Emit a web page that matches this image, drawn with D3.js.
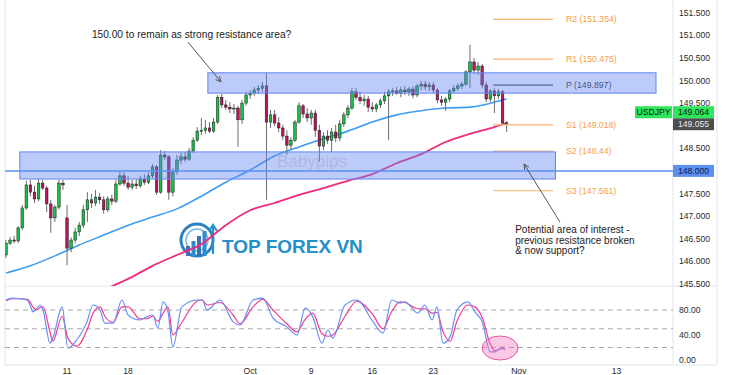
<!DOCTYPE html>
<html>
<head>
<meta charset="utf-8">
<script src="https://cdn.jsdelivr.net/npm/d3@7"></script>
<style>
body { margin:0; background:#fff; }
text { font-family: "Liberation Sans", Arial, sans-serif; }
</style>
</head>
<body>
<script>
// USDJPY, 8h candles from Sep 4 to Oct 31 : [open, high, low, close]
var candles = [
 [146.14,146.47,146.07,146.40],[146.40,146.54,146.36,146.47],[146.47,146.56,146.40,146.45],[146.45,146.78,146.40,146.74],
 [146.74,147.25,146.69,147.18],[147.18,147.78,147.14,147.69],[147.69,147.80,147.44,147.53],[147.53,147.67,147.29,147.38],
 [147.38,147.82,147.33,147.73],[147.73,147.80,147.58,147.62],[147.62,147.67,147.09,147.27],[147.27,147.36,146.63,146.96],
 [146.96,147.25,146.87,147.20],[147.20,147.80,147.14,147.73],[147.73,147.80,147.58,147.69],[146.96,147.25,145.91,146.29],
 [146.29,146.53,146.20,146.47],[146.47,146.74,146.40,146.65],[146.65,146.87,146.56,146.80],[146.80,147.25,146.74,147.14],
 [147.14,147.53,146.87,147.36],[147.36,147.49,147.18,147.29],[147.29,147.58,147.22,147.42],[147.42,147.51,147.27,147.36],
 [147.36,147.44,147.05,147.14],[147.14,147.44,147.09,147.38],[147.38,147.47,147.25,147.33],[147.33,147.80,147.29,147.71],
 [147.71,147.98,147.67,147.89],[147.89,147.98,147.67,147.73],[147.73,147.89,147.58,147.64],[147.64,147.80,147.58,147.71],
 [147.71,147.82,147.60,147.67],[147.67,147.89,147.62,147.82],[147.82,147.93,147.69,147.75],[147.75,147.98,147.71,147.89],
 [147.89,148.15,147.84,148.09],[148.09,148.13,147.47,147.53],[147.53,148.46,147.49,148.35],[148.35,148.44,148.24,148.31],
 [148.31,148.35,147.36,147.53],[147.53,148.06,147.44,147.98],[147.98,148.35,147.91,148.24],[148.24,148.40,148.15,148.31],
 [148.31,148.42,148.20,148.26],[148.26,148.51,148.22,148.44],[148.44,148.75,148.40,148.68],[148.68,148.97,148.64,148.88],
 [148.88,149.17,148.79,148.90],[148.90,149.13,148.82,148.95],[148.95,149.08,148.84,148.88],[148.88,149.17,148.84,149.08],
 [149.08,149.68,149.04,149.63],[149.63,149.70,149.39,149.46],[149.46,149.57,149.35,149.41],[149.41,149.52,149.28,149.37],
 [149.37,149.48,149.26,149.39],[149.39,149.44,148.53,149.13],[149.13,149.57,149.04,149.50],[149.50,149.75,149.44,149.68],
 [149.68,149.79,149.59,149.72],[149.72,149.86,149.66,149.79],[149.79,149.90,149.70,149.83],[149.83,149.97,149.75,149.88],
 [149.88,150.17,147.36,149.08],[149.08,149.35,148.95,149.24],[149.24,149.35,148.99,149.06],[149.06,149.19,148.86,148.95],
 [148.95,149.02,148.68,148.77],[148.77,148.90,148.35,148.57],[148.57,148.75,148.46,148.68],[148.68,149.13,148.64,149.08],
 [149.08,149.52,149.04,149.44],[149.44,149.48,149.17,149.26],[149.26,149.39,149.08,149.17],[149.17,149.35,149.02,149.28],
 [149.28,149.35,148.75,148.90],[148.90,149.02,148.20,148.55],[148.55,148.86,148.46,148.77],[148.77,148.90,148.60,148.68],
 [148.68,148.95,148.42,148.86],[148.86,149.02,148.64,148.73],[148.73,149.13,148.66,149.04],[149.04,149.30,148.97,149.24],
 [149.24,149.46,149.17,149.39],[149.39,149.83,149.35,149.75],[149.75,149.83,149.57,149.63],[149.63,149.75,149.48,149.55],
 [149.55,149.68,149.44,149.59],[149.59,149.66,149.30,149.41],[149.41,149.52,149.30,149.37],[149.37,149.50,149.30,149.46],
 [149.46,149.61,149.39,149.55],[149.55,149.75,149.48,149.66],[149.66,149.81,148.68,149.75],[149.75,149.83,149.66,149.77],
 [149.77,149.86,149.68,149.72],[149.72,149.86,149.63,149.79],[149.79,149.88,149.68,149.75],[149.75,149.86,149.66,149.81],
 [149.81,149.88,149.61,149.68],[149.68,149.92,149.63,149.88],[149.88,149.99,149.79,149.92],[149.92,149.99,149.79,149.86],
 [149.86,149.97,149.77,149.90],[149.90,149.97,149.72,149.79],[149.79,149.83,149.50,149.57],[149.57,149.66,149.44,149.52],
 [149.52,149.63,149.33,149.59],[149.59,149.81,149.52,149.77],[149.77,149.90,149.72,149.83],[149.83,149.94,149.77,149.88],
 [149.88,149.97,149.81,149.92],[149.92,150.23,149.88,150.19],[150.19,150.79,149.83,150.41],[150.41,150.50,150.14,150.23],
 [150.23,150.41,150.12,150.32],[150.32,150.37,149.83,149.90],[149.90,149.97,149.52,149.59],[149.59,149.81,149.52,149.77],
 [149.77,149.83,149.28,149.66],[149.66,149.81,149.59,149.75],[149.75,149.79,149.02,149.06],[149.06,149.10,148.86,149.064]
];

// moving averages, read at some candle indexes
var maBlueIdx = [0,6,12,18,24,30,36,42,48,54,60,66,72,78,84,90,96,102,108,114,120,123];
var maBlue = [145.74,145.90,146.12,146.36,146.58,146.80,146.98,147.16,147.44,147.75,148.02,148.33,148.53,148.71,148.88,149.08,149.24,149.33,149.39,149.41,149.52,149.59];
var maPinkIdx = [24,30,36,42,48,54,60,66,72,78,84,90,96,102,108,114,120,123];
var maPink = [145.37,145.61,145.90,146.14,146.38,146.80,147.13,147.29,147.47,147.62,147.78,147.93,148.17,148.37,148.64,148.82,148.97,149.06];

// stochastic
var stochIdx = [0,1.5,3.4,5.2,5.9,6.6,7.6,8.4,9.1,10.8,11.5,13.8,15.2,17.4,19.9,21.4,23.1,24.3,26.3,28.5,30,32.9,34.6,36.1,37.3,38.6,39.8,41,43.2,46.9,48.2,49.4,52.6,55.8,57.5,60.7,63.1,65.6,69,71.5,73.5,75.4,77.6,79.1,80.3,83.3,86.2,90.2,92.6,94.8,96.8,98,101.2,102.9,104.7,105.9,107.4,109.1,110.8,113.5,115.2,117,119,120.1,121.9,122.6];
var stochK = [96,99,98,96,88,77,83,88,80,27,35,85,19,32,61,88,80,59,59,96,72,64,69,72,51,93,77,21,85,96,96,80,96,61,56,96,99,67,53,40,83,69,27,48,35,88,96,61,43,96,91,93,75,88,64,85,27,37,80,93,77,61,13,13,21,16];
var stochD = [95,98,98,97,93,85,80,84,85,45,30,70,35,22,48,75,85,70,60,85,85,66,66,70,62,75,85,40,60,94,96,88,92,72,58,85,97,80,58,45,65,75,42,38,40,70,94,72,50,78,93,92,82,82,75,76,45,30,62,88,85,68,25,15,18,18];

var pivotNames = ["R2","R1","P","S1","S2","S3"];
var pivotValues = [151.354,150.475,149.897,149.018,148.44,147.561];

var priceTicks = [145.5,146,146.5,147,147.5,148,148.5,149,149.5,150,150.5,151,151.5];
var stochTicks = [0,40,80];
var stochLevels = [20,50,80];
var dateIdx = [15,30,60,75,90,105,126,150];
var dateLabels = ["11","18","Oct","9","16","23","Nov","13"];

var lastPrice = 149.064, bidPrice = 149.055, keyLevel = 148.000;

var W = 750, H = 375,
    left = 5, right = 673, axisRight = 717,
    mainBottom = 286, stochTop = 286, stochBottom = 365;

var svg = d3.select("body").append("svg")
    .attr("width", W)
    .attr("height", H);

var x = d3.scaleLinear().domain([0,150]).range([6,616.5]);
var y = d3.scaleLinear().domain([145.5,151.5]).range([283.9,12.7]);
var ys = d3.scaleLinear().domain([0,100]).range([360,297.5]);

var defs = svg.append("defs");
defs.append("clipPath").attr("id","clipMain").append("rect")
    .attr("x",left).attr("y",0).attr("width",right-left).attr("height",mainBottom);
defs.append("clipPath").attr("id","clipStoch").append("rect")
    .attr("x",left).attr("y",stochTop).attr("width",right-left).attr("height",stochBottom-stochTop);
defs.append("marker").attr("id","arr")
    .attr("viewBox","0 0 10 10").attr("refX",9).attr("refY",5)
    .attr("markerWidth",7).attr("markerHeight",7).attr("orient","auto")
    .append("path").attr("d","M1,1 L9,5 L1,9").attr("fill","none")
    .attr("stroke","#444").attr("stroke-width",1.3);

// frame
var frame = svg.append("g").attr("stroke","#e3e5ea").attr("stroke-width",1);
frame.append("line").attr("x1",left).attr("x2",left).attr("y1",0).attr("y2",stochBottom);
frame.append("line").attr("x1",right).attr("x2",right).attr("y1",0).attr("y2",stochBottom);
frame.append("line").attr("x1",axisRight).attr("x2",axisRight).attr("y1",0).attr("y2",stochBottom);
frame.append("line").attr("x1",left).attr("x2",axisRight).attr("y1",mainBottom).attr("y2",mainBottom);
frame.append("line").attr("x1",left).attr("x2",axisRight).attr("y1",stochBottom).attr("y2",stochBottom);

var main = svg.append("g").attr("clip-path","url(#clipMain)");

// logo watermark
var logo = main.append("g");
logo.append("circle").attr("cx",197).attr("cy",240).attr("r",16)
    .attr("fill","none").attr("stroke","#2d7fc1").attr("stroke-width",3);
logo.append("circle").attr("cx",197).attr("cy",240).attr("r",11)
    .attr("fill","none").attr("stroke","#7fb6e0").attr("stroke-width",1.5);
[0,1,2,3].forEach(function(b){
    logo.append("rect").attr("x",186+b*5.5).attr("y",246-b*5).attr("width",4)
        .attr("height",10+b*5).attr("fill", b%2 ? "#2a8fd0" : "#3f6fb5");
});
logo.append("path").attr("d","M213,254 L213,226 M209,231 L213,225 L217,231")
    .attr("fill","none").attr("stroke","#2a8fd0").attr("stroke-width",2.2);
main.append("text").text("TOP FOREX VN")
    .attr("x",222).attr("y",253).attr("font-size",19).attr("font-weight","bold")
    .attr("fill","#2390c8");

// moving averages
var maLine = d3.line().curve(d3.curveMonotoneX)
    .x(function(d){ return x(d[0]); }).y(function(d){ return y(d[1]); });
main.append("path").datum(maBlueIdx.map(function(v,i){ return [v, maBlue[i]]; }))
    .attr("d",maLine).attr("fill","none").attr("stroke","#3d9df0").attr("stroke-width",1.6);
main.append("path").datum(maPinkIdx.map(function(v,i){ return [v, maPink[i]]; }))
    .attr("d",maLine).attr("fill","none").attr("stroke","#f02a7e").attr("stroke-width",1.8);

// candles
var cw = 2.6;
main.selectAll(".wick").data(candles).enter().append("line")
    .attr("x1",function(d,i){ return x(i); }).attr("x2",function(d,i){ return x(i); })
    .attr("y1",function(d){ return y(d[1]); }).attr("y2",function(d){ return y(d[2]); })
    .attr("stroke","#6e6e6e").attr("stroke-width",1);
main.selectAll(".body").data(candles).enter().append("rect")
    .attr("x",function(d,i){ return x(i)-cw/2; })
    .attr("y",function(d){ return y(Math.max(d[0],d[3])); })
    .attr("width",cw)
    .attr("height",function(d){ return Math.max(1, Math.abs(y(d[0])-y(d[3]))); })
    .attr("fill",function(d){ return d[3]>=d[0] ? "#16c243" : "#b8155e"; })
    .attr("stroke","#1b1b1b").attr("stroke-width",0.5);

// pivots
var pv = svg.append("g");
pivotValues.forEach(function(v,i){
    var c = pivotNames[i]=="P" ? "#555" : "#f7b46a";
    pv.append("line").attr("x1",x(119.7)).attr("x2",x(134.4))
        .attr("y1",y(v)).attr("y2",y(v)).attr("stroke",c).attr("stroke-width",1.2);
    pv.append("text").text(pivotNames[i]+" ("+v+")")
        .attr("x",x(137.6)).attr("y",y(v)+3).attr("font-size",8.7)
        .attr("fill",pivotNames[i]=="P" ? "#333" : "#f5a04a");
});

// zones
var zoneFill = "rgba(95,131,243,0.42)", zoneStroke = "#5f86ee";
svg.append("rect").attr("x",x(49.6)).attr("y",y(150.17))
    .attr("width",x(159.7)-x(49.6)).attr("height",y(149.72)-y(150.17))
    .attr("fill",zoneFill).attr("stroke",zoneStroke).attr("stroke-width",1);
svg.append("rect").attr("x",x(3.4)).attr("y",y(148.42))
    .attr("width",x(135)-x(3.4)).attr("height",y(147.82)-y(148.42))
    .attr("fill",zoneFill).attr("stroke",zoneStroke).attr("stroke-width",1);
svg.append("line").attr("x1",left).attr("x2",right)
    .attr("y1",y(keyLevel)).attr("y2",y(keyLevel))
    .attr("stroke","#5b90f0").attr("stroke-width",1.5);

svg.append("text").text("Babypips").attr("x",277).attr("y",y(148.09))
    .attr("font-size",17).attr("fill","#9a9aae").attr("fill-opacity",0.4);

// annotations
svg.append("text").text("150.00 to remain as strong resistance area?")
    .attr("x",x(21.1)).attr("y",y(150.93)).attr("font-size",10.2).attr("fill","#222");
svg.append("line").attr("x1",x(44.7)).attr("y1",y(150.85)).attr("x2",x(52.8)).attr("y2",y(149.97))
    .attr("stroke","#444").attr("stroke-width",0.9).attr("marker-end","url(#arr)");
var note = svg.append("text").attr("x",x(125.1)).attr("y",y(146.62))
    .attr("font-size",10).attr("fill","#222");
["Potential area of interest -","previous resistance broken","& now support?"].forEach(function(t,i){
    note.append("tspan").text(t).attr("x",x(125.1)).attr("dy",i==0 ? 0 : 10.5);
});
svg.append("line").attr("x1",x(136.1)).attr("y1",y(146.87)).attr("x2",x(127.3)).attr("y2",y(148.15))
    .attr("stroke","#444").attr("stroke-width",0.9).attr("marker-end","url(#arr)");

// price axis
var ax = svg.append("g");
ax.selectAll("text").data(priceTicks).enter().append("text")
    .text(function(d){ return d3.format(".3f")(d); })
    .attr("x",679).attr("y",function(d){ return y(d)+3; })
    .attr("font-size",8.6).attr("fill","#2a2a2a");

function tag(txt, yc, fill, col, x0, x1) {
    svg.append("rect").attr("x",x0).attr("y",yc-6).attr("width",x1-x0).attr("height",12)
        .attr("fill",fill);
    svg.append("text").text(txt).attr("x",(x0+x1)/2).attr("y",yc+3)
        .attr("text-anchor","middle").attr("font-size",8.6).attr("fill",col);
}
var yb = y(bidPrice);
tag(d3.format(".3f")(bidPrice), yb+1, "#4e4e52", "#e8e8e8", 673, 714);
tag(d3.format(".3f")(lastPrice), yb-11, "#2de65b", "#102010", 673, 714);
tag("USDJPY", yb-11, "#2de65b", "#102010", 635, 672);
tag(d3.format(".3f")(keyLevel), y(keyLevel), "#5b8ff0", "#14204a", 673, 714);

// stochastic pane
var st = svg.append("g").attr("clip-path","url(#clipStoch)");
st.selectAll(".lvl").data(stochLevels).enter().append("line")
    .attr("x1",left).attr("x2",right)
    .attr("y1",function(d){ return ys(d); }).attr("y2",function(d){ return ys(d); })
    .attr("stroke","#a8a8a8").attr("stroke-dasharray","5,4").attr("stroke-width",1);
var sLine = d3.line().curve(d3.curveMonotoneX)
    .x(function(d){ return x(d[0]); }).y(function(d){ return ys(d[1]); });
st.append("path").datum(stochIdx.map(function(v,i){ return [v, stochD[i]]; }))
    .attr("d",sLine).attr("fill","none").attr("stroke","#f03c8c").attr("stroke-width",1.2);
st.append("path").datum(stochIdx.map(function(v,i){ return [v, stochK[i]]; }))
    .attr("d",sLine).attr("fill","none").attr("stroke","#6a8ef6").attr("stroke-width",1.2);
st.append("ellipse").attr("cx",x(121.4)).attr("cy",ys(19.2)).attr("rx",18).attr("ry",12)
    .attr("fill","rgba(240,110,185,0.38)").attr("stroke","#e8559d").attr("stroke-width",1);

svg.selectAll(".stl").data(stochTicks).enter().append("text")
    .text(function(d){ return d3.format(".2f")(d); })
    .attr("x",679).attr("y",function(d){ return ys(d)+3; })
    .attr("font-size",8.6).attr("fill","#2a2a2a");

// time axis
svg.selectAll(".dl").data(dateIdx).enter().append("text")
    .text(function(d,i){ return dateLabels[i]; })
    .attr("x",function(d){ return x(d); }).attr("y",374)
    .attr("text-anchor","middle").attr("font-size",8.6).attr("fill","#2a2a2a");
</script>
</body>
</html>
